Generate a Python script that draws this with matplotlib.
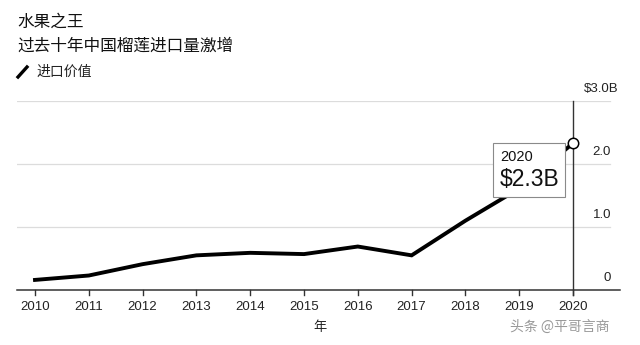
import matplotlib
matplotlib.use("Agg")
from matplotlib import pyplot as plt

years = [2010, 2011, 2012, 2013, 2014, 2015, 2016, 2017, 2018, 2019, 2020]
values = [0.16, 0.23, 0.41, 0.55, 0.59, 0.57, 0.69, 0.55, 1.10, 1.61, 2.33]
ylabels = ["0", "1.0", "2.0", "$3.0B"]
yticks = [0, 1, 2, 3]

num_font = ["Liberation Sans", "Noto Sans CJK SC"]
cjk_font = ["Noto Sans CJK SC", "DejaVu Sans"]

fig = plt.figure(figsize=(6.4, 3.45), dpi=100)
W, H = 640, 345


def px(x, y):
    return x / W, 1 - y / H


# plot area: left 17px, right 620px, baseline y=290, top y=101
ax = fig.add_axes([17 / W, (H - 290) / H, 603 / W, 189 / H])
ax.set_xlim(2010 - 18 / 53.8, 2020 + 47 / 53.8)
ax.set_ylim(0, 3.0)
for s in ax.spines.values():
    s.set_visible(False)
ax.set_yticks([])
ax.set_xticks([])

# gridlines
for v in yticks[1:]:
    ax.plot([ax.get_xlim()[0], 2020 + 37 / 53.8], [v, v], color="#dcdcdc", lw=0.9, zorder=1)
# baseline
ax.axhline(0, color="#333333", lw=1.1, zorder=2, clip_on=False)

# year ticks
for yr in years:
    ax.plot([yr, yr], [0, -0.08], color="#333333", lw=1, clip_on=False, zorder=2)
    ax.text(yr, -0.27, str(yr), ha="center", va="center", fontsize=9.5,
            family=num_font, color="#222222")

# vertical marker line at 2020
ax.plot([2020, 2020], [-0.08, 3.0], color="#333333", lw=1, clip_on=False, zorder=2)

# y labels
for v, lab in zip(yticks, ylabels):
    if lab.startswith("$"):
        ax.text(2020 + 11 / 53.8, v + 0.1, lab, ha="left", va="bottom", fontsize=9.5,
                family=num_font, color="#222222")
    else:
        ax.text(2020 + 38 / 53.8, v + 0.1, lab, ha="right", va="bottom", fontsize=9.5,
                family=num_font, color="#222222")

# data line
ax.plot(years, values, color="black", lw=2.8, solid_joinstyle="miter", zorder=4,
        clip_on=False)
ax.plot(years[-1], values[-1], "o", ms=7.5, mfc="white", mec="black", mew=1.1,
        zorder=6, clip_on=False)

# callout box
box = plt.Rectangle(px(493, 197), 72 / W, 54 / H, transform=fig.transFigure,
                    facecolor="white", edgecolor="#8a8a8a", lw=0.8, zorder=5)
ax.add_artist(box)
box.set_clip_on(False)
fig.text(*px(500, 157), "2020", ha="left", va="center", fontsize=10.5,
         family=num_font, color="#111111", zorder=7)
fig.text(*px(500, 180), "$2.3B", ha="left", va="center", fontsize=16.5,
         family=num_font, color="#111111", zorder=7)

# x axis title
fig.text(*px(320, 327), "年", ha="center", va="center", fontsize=9.5,
         family=cjk_font, color="#222222")

# titles
fig.text(*px(17, 22), "水果之王", ha="left", va="center", fontsize=12,
         family=cjk_font, color="#111111")
fig.text(*px(17, 46), "过去十年中国榴莲进口量激增", ha="left", va="center", fontsize=12,
         family=cjk_font, color="#111111")
fig.lines.append(plt.Line2D([18 / W, 27 / W], [1 - 77 / H, 1 - 67 / H],
                            transform=fig.transFigure, color="black", lw=2.4))
fig.text(*px(36, 72), "进口价值", ha="left", va="center", fontsize=10,
         family=cjk_font, color="#222222")

# watermark
fig.text(*px(560, 327), "头条 @平哥言商", ha="center", va="center", fontsize=10,
         family=cjk_font, color="#555555", alpha=0.6)

fig.savefig("out.png", dpi=100)
